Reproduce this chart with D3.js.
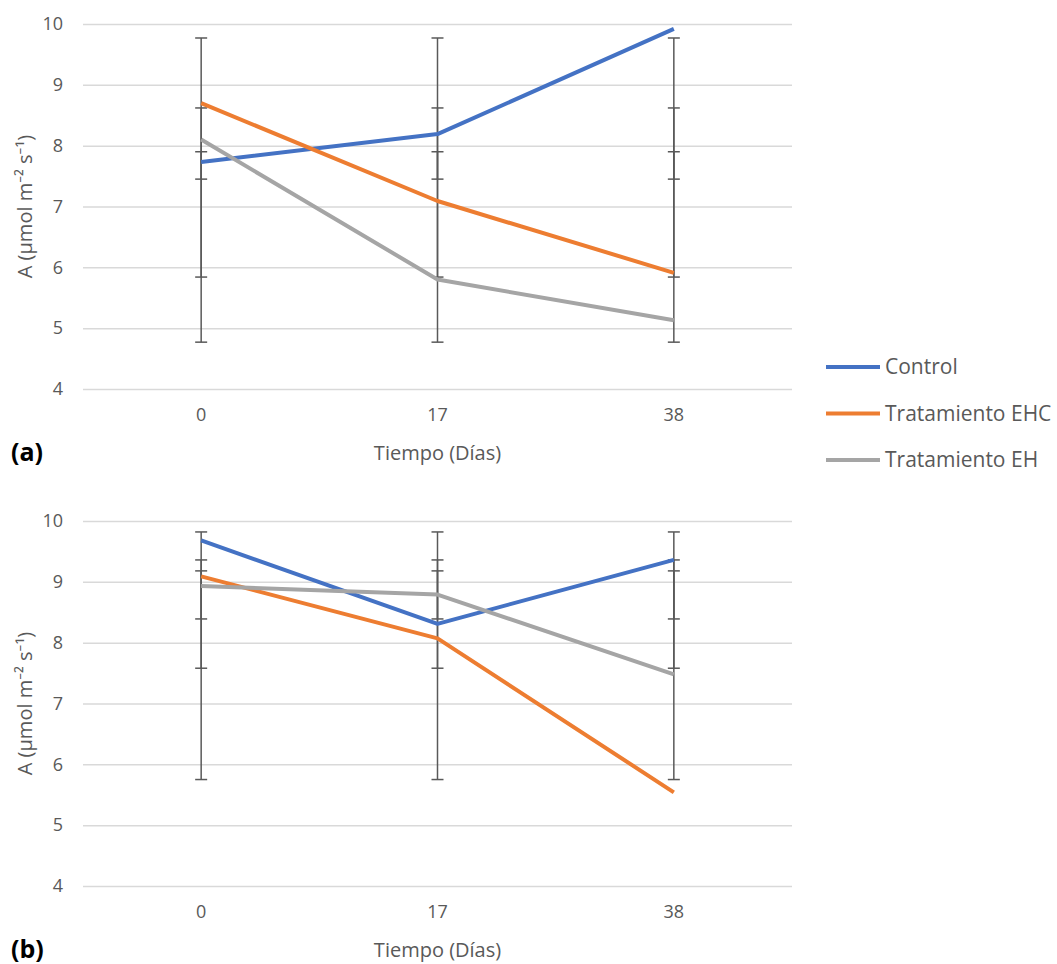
<!DOCTYPE html>
<html>
<head>
<meta charset="utf-8">
<script src="https://cdn.jsdelivr.net/npm/d3@7/dist/d3.min.js"></script>
<style>
  body { margin: 0; background: #fff; }
  text { font-family: "Open Sans", "Noto Sans", sans-serif; }
</style>
</head>
<body>
<div id="chart"></div>
<script>
  ///////////////////////////////////////////////////////////////////////////
  ///////////////////////////////// Data ////////////////////////////////////
  ///////////////////////////////////////////////////////////////////////////
  var days = ["0", "17", "38"]
  var seriesNames = ["Control", "Tratamiento EHC", "Tratamiento EH"]
  var yTicks = [4, 5, 6, 7, 8, 9, 10]

  // panel (a)
  var controlA = [7.73, 8.19, 9.92]
  var ehcA = [8.70, 7.09, 5.91]
  var ehA = [8.10, 5.80, 5.13]
  // error bars (same at each day): [low, high] per series
  var errA = [[7.45, 9.77], [5.84, 8.62], [4.77, 7.90]]

  // panel (b)
  var controlB = [9.68, 8.31, 9.36]
  var ehcB = [9.09, 8.07, 5.54]
  var ehB = [8.93, 8.79, 7.48]
  var errB = [[8.39, 9.82], [5.75, 9.36], [7.58, 9.18]]

  ///////////////////////////////////////////////////////////////////////////
  //////////////////////////////// Globals //////////////////////////////////
  ///////////////////////////////////////////////////////////////////////////
  var W = 1057, H = 964
  var colors = ["#4472C4", "#ED7D31", "#A5A5A5"]
  var plotLeft = 83, plotRight = 792

  var svg = d3.select("#chart").append("svg")
    .attr("width", W)
    .attr("height", H)

  svg.append("rect").attr("width", W).attr("height", H).attr("fill", "#fff")

  var x = d3.scaleBand().domain(days).range([plotLeft, plotRight])

  drawPanel([controlA, ehcA, ehA], errA, 24, 389, "(a)")
  drawPanel([controlB, ehcB, ehB], errB, 521, 886, "(b)")
  drawLegend()

  ///////////////////////////////////////////////////////////////////////////
  ////////////////////////////// Panel drawing //////////////////////////////
  ///////////////////////////////////////////////////////////////////////////
  function drawPanel(series, errs, top, bottom, tag) {
    var y = d3.scaleLinear().domain([4, 10]).range([bottom, top])
    var g = svg.append("g")

    // gridlines + y labels
    var yAxis = g.append("g")
      .attr("transform", "translate(" + plotLeft + ",0)")
      .call(d3.axisLeft(y).tickValues(yTicks).tickFormat(d3.format("d"))
        .tickSize(-(plotRight - plotLeft)).tickPadding(20))
    yAxis.select(".domain").remove()
    yAxis.selectAll("line").attr("stroke", "#d9d9d9").attr("stroke-width", 1.5)
    yAxis.selectAll("text").attr("fill", "#595959").style("font-size", "18px")

    // x labels
    var xAxis = g.append("g")
      .attr("transform", "translate(0," + bottom + ")")
      .call(d3.axisBottom(x).tickSize(0).tickPadding(19))
    xAxis.select(".domain").remove()
    xAxis.selectAll("text").attr("fill", "#595959").style("font-size", "18px")

    // axis titles
    g.append("text")
      .attr("transform", "translate(32," + ((top + bottom) / 2) + ") rotate(-90)")
      .attr("text-anchor", "middle")
      .attr("fill", "#595959")
      .style("font-size", "20px")
      .text("A (µmol m⁻² s⁻¹)")

    g.append("text")
      .attr("x", (plotLeft + plotRight) / 2)
      .attr("y", bottom + 71)
      .attr("text-anchor", "middle")
      .attr("fill", "#595959")
      .style("font-size", "20px")
      .text("Tiempo (Días)")

    g.append("text")
      .attr("x", 11)
      .attr("y", bottom + 72)
      .attr("fill", "#000")
      .style("font-size", "25px")
      .style("font-weight", "bold")
      .text(tag)

    // error bars
    var cx = function (d) { return x(d) + x.bandwidth() / 2 }
    errs.forEach(function (e) {
      days.forEach(function (d) {
        g.append("line")
          .attr("x1", cx(d)).attr("x2", cx(d))
          .attr("y1", y(e[0])).attr("y2", y(e[1]))
          .attr("stroke", "#595959").attr("stroke-width", 1.5)
        e.forEach(function (v) {
          g.append("line")
            .attr("x1", cx(d) - 6).attr("x2", cx(d) + 6)
            .attr("y1", y(v)).attr("y2", y(v))
            .attr("stroke", "#595959").attr("stroke-width", 1.5)
        })
      })
    })

    // lines
    var line = d3.line()
      .x(function (d, i) { return cx(days[i]) })
      .y(function (d) { return y(d) })

    series.forEach(function (s, i) {
      g.append("path")
        .datum(s)
        .attr("d", line)
        .attr("fill", "none")
        .attr("stroke", colors[i])
        .attr("stroke-width", 4)
        .attr("stroke-linejoin", "round")
    })
  }

  ///////////////////////////////////////////////////////////////////////////
  ///////////////////////////////// Legend //////////////////////////////////
  ///////////////////////////////////////////////////////////////////////////
  function drawLegend() {
    var lg = svg.append("g").attr("transform", "translate(826,367)")
    seriesNames.forEach(function (n, i) {
      var row = lg.append("g").attr("transform", "translate(0," + (i * 46.5) + ")")
      row.append("line")
        .attr("x1", 0).attr("x2", 54)
        .attr("stroke", colors[i]).attr("stroke-width", 4)
      row.append("text")
        .attr("x", 59)
        .attr("dy", "0.35em")
        .attr("fill", "#595959")
        .style("font-size", "21px")
        .text(n)
    })
  }
</script>
</body>
</html>
